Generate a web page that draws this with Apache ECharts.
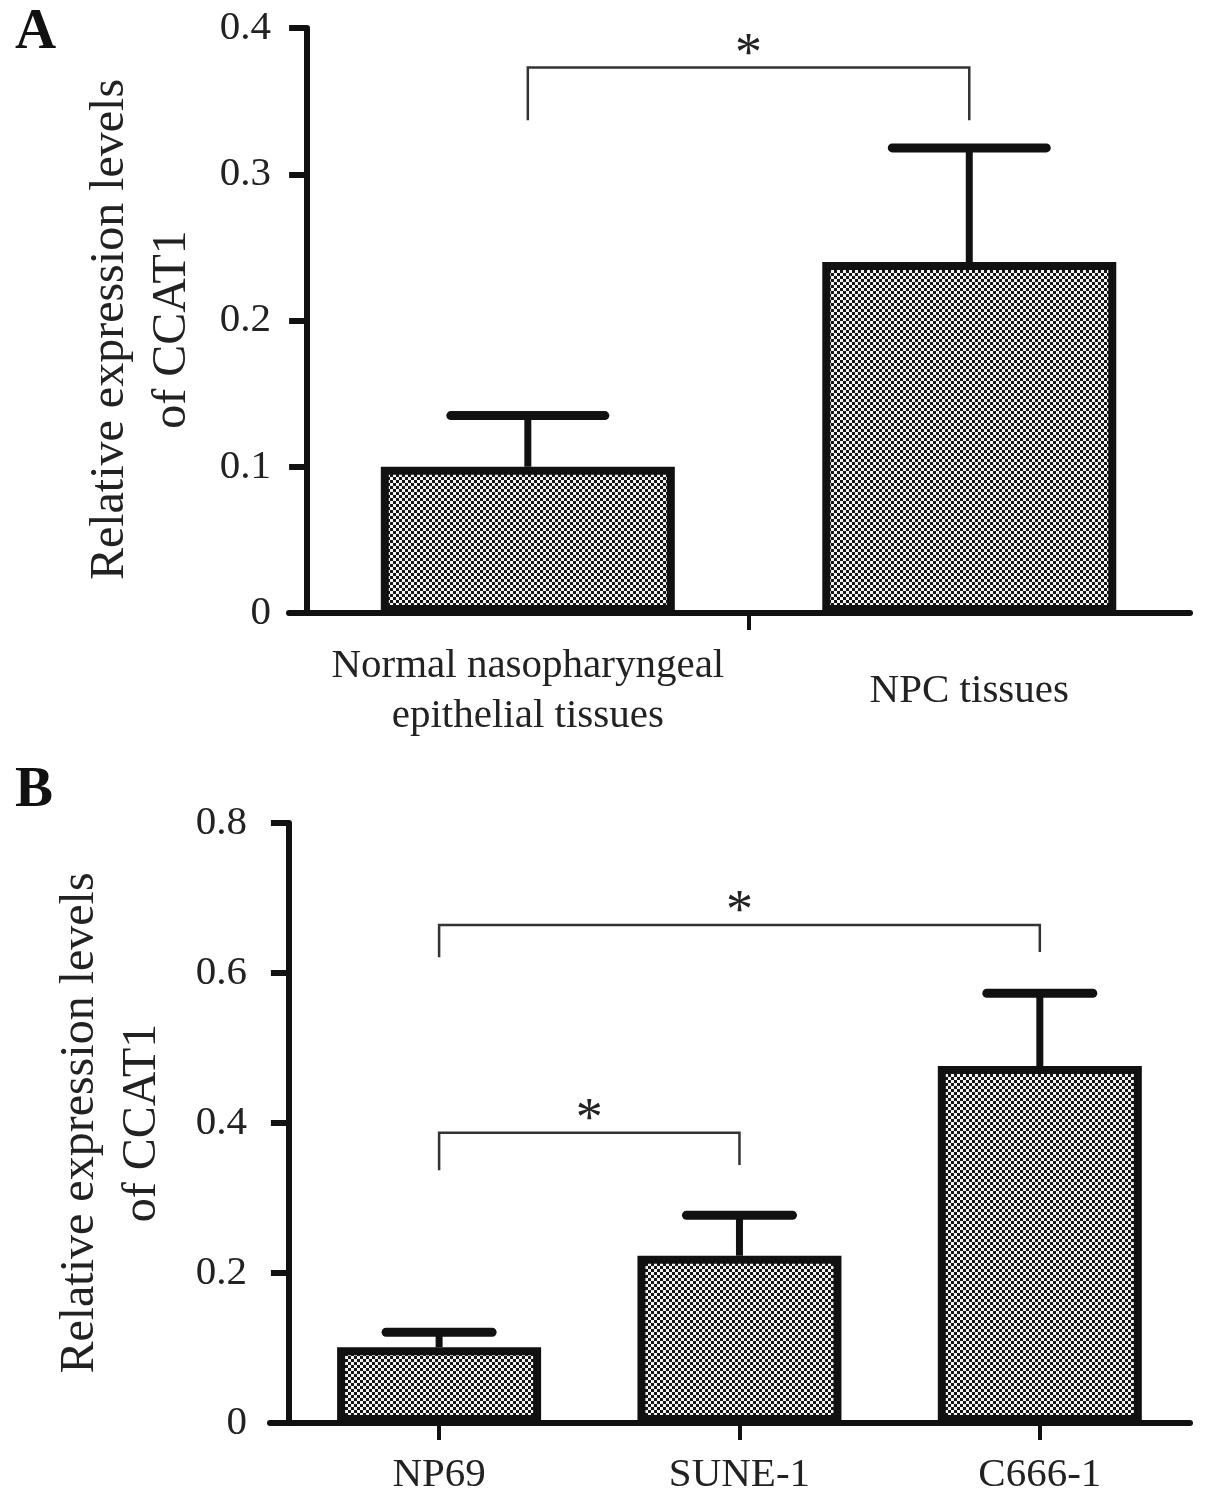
<!DOCTYPE html>
<html>
<head>
<meta charset="utf-8">
<script src="https://cdn.jsdelivr.net/npm/echarts@6/dist/echarts.min.js"></script>
<style>
  html, body { margin: 0; background: #fff; }
  #chart { width: 1205px; height: 1507px; }
</style>
</head>
<body>
<div id="chart"></div>
<script>
// Panel A: tissues
const tissueCategories = ["Normal nasopharyngeal\nepithelial tissues", "NPC tissues"];
const tissueMeans = [0.1, 0.24];
const tissueSD = [0.035, 0.078];
// [from, to, bracket top, left leg end, right leg end]
const tissueBrackets = [[0, 1, 0.373, 0.337, 0.337]];
const tissueTicks = [0, 0.1, 0.2, 0.3, 0.4];

// Panel B: cell lines
const cellCategories = ["NP69", "SUNE-1", "C666-1"];
const cellMeans = [0.101, 0.223, 0.476];
const cellSD = [0.02, 0.054, 0.097];
const cellBrackets = [[0, 2, 0.664, 0.621, 0.628], [0, 1, 0.387, 0.337, 0.344]];
const cellTicks = [0, 0.2, 0.4, 0.6, 0.8];

const FONT = '"Liberation Serif", "DejaVu Serif", serif';
const INK = "#111";
const AXIS_NAME = "Relative expression levels\nof CCAT1";

// checkered fill like the GraphPad pattern
function makeChecker() {
  const c = document.createElement("canvas");
  c.width = 6;
  c.height = 6;
  const ctx = c.getContext("2d");
  ctx.fillStyle = "#f4f4f4";
  ctx.fillRect(0, 0, 6, 6);
  ctx.fillStyle = "#151515";
  ctx.fillRect(0, 0, 3, 3);
  ctx.fillRect(3, 3, 3, 3);
  return c;
}
const checker = { image: makeChecker(), repeat: "repeat" };

function catX(i) {
  return i + 0.5;
}

function xAxisFor(gridIndex, categories, xMin, tickValues, labelMargin) {
  return {
    type: "value",
    gridIndex,
    min: xMin,
    max: categories.length,
    splitLine: { show: false },
    axisLine: { lineStyle: { color: INK, width: 6 } },
    axisTick: { customValues: tickValues, length: 17, lineStyle: { color: INK, width: 4 } },
    axisLabel: {
      customValues: categories.map((_, i) => catX(i)),
      formatter: (v) => categories[Math.round(v - 0.5)] || "",
      margin: labelMargin,
      verticalAlign: "middle",
      fontFamily: FONT,
      fontSize: 41,
      lineHeight: 50,
      color: "#222"
    }
  };
}

function yAxisFor(gridIndex, ticks, labelMargin, nameGap, namePad) {
  return {
    type: "value",
    gridIndex,
    min: ticks[0],
    max: ticks[ticks.length - 1],
    interval: ticks[1] - ticks[0],
    splitLine: { show: false },
    axisLine: { onZero: true, lineStyle: { color: INK, width: 6 } },
    axisTick: { length: 18, lineStyle: { color: INK, width: 6 } },
    axisLabel: { margin: labelMargin, fontFamily: FONT, fontSize: 41, color: "#222" },
    name: AXIS_NAME,
    nameLocation: "middle",
    nameGap,
    nameMoveOverlap: false,
    nameTextStyle: {
      fontFamily: FONT,
      fontSize: 48,
      lineHeight: 62,
      color: "#222",
      align: "center",
      padding: namePad
    }
  };
}

function barSeries(axisIndex, means, width) {
  return {
    type: "bar",
    xAxisIndex: axisIndex,
    yAxisIndex: axisIndex,
    barWidth: width,
    z: 3,
    itemStyle: { color: checker, borderColor: INK, borderWidth: 8 },
    data: means.map((m, i) => [catX(i), m])
  };
}

function errorSeries(axisIndex, means, sd, capHalf) {
  return {
    type: "custom",
    xAxisIndex: axisIndex,
    yAxisIndex: axisIndex,
    z: 2,
    silent: true,
    encode: { x: 0, y: [1, 2] },
    data: means.map((m, i) => [catX(i), m, m + sd[i]]),
    renderItem(params, api) {
      const base = api.coord([api.value(0), api.value(1)]);
      const top = api.coord([api.value(0), api.value(2)]);
      return {
        type: "group",
        children: [
          {
            type: "line",
            shape: { x1: base[0], y1: base[1], x2: top[0], y2: top[1] },
            style: { stroke: INK, lineWidth: 7 }
          },
          {
            type: "line",
            shape: { x1: top[0] - capHalf, y1: top[1], x2: top[0] + capHalf, y2: top[1] },
            style: { stroke: INK, lineWidth: 9, lineCap: "round" }
          }
        ]
      };
    }
  };
}

function bracketSeries(axisIndex, brackets) {
  return {
    type: "custom",
    xAxisIndex: axisIndex,
    yAxisIndex: axisIndex,
    silent: true,
    encode: { x: [0, 1], y: [2, 3, 4] },
    data: brackets.map((b) => [catX(b[0]), catX(b[1]), b[2], b[3], b[4]]),
    renderItem(params, api) {
      const l = api.coord([api.value(0), api.value(2)]);
      const r = api.coord([api.value(1), api.value(2)]);
      const lb = api.coord([api.value(0), api.value(3)]);
      const rb = api.coord([api.value(1), api.value(4)]);
      return {
        type: "group",
        children: [
          {
            type: "polyline",
            shape: { points: [lb, l, r, rb] },
            style: { stroke: "#333", lineWidth: 2.5, fill: null }
          },
          {
            type: "text",
            style: {
              x: (l[0] + r[0]) / 2,
              y: l[1] - 12,
              text: "*",
              align: "center",
              verticalAlign: "middle",
              font: "54px " + FONT,
              fill: "#222"
            }
          }
        ]
      };
    }
  };
}

const chart = echarts.init(document.getElementById("chart"), null, { renderer: "canvas" });

const letterStyle = { fontFamily: FONT, fontSize: 57, fontWeight: "bold", color: "#111" };

chart.setOption({
  animation: false,
  backgroundColor: "#fff",
  title: [
    { text: "A", left: 10, top: 0, textStyle: letterStyle },
    { text: "B", left: 10, top: 758, textStyle: letterStyle }
  ],
  grid: [
    { left: 289, right: 15, top: 28, height: 585 },
    { left: 270, right: 15, top: 823, height: 600 }
  ],
  xAxis: [
    xAxisFor(0, tissueCategories, -0.041, [1], 78),
    xAxisFor(1, cellCategories, -0.063, cellCategories.map((_, i) => catX(i)), 52)
  ],
  yAxis: [
    yAxisFor(0, tissueTicks, 18, 86, [0, 18, 0, 0]),
    yAxisFor(1, cellTicks, 23, 97, [0, 0, 0, 0])
  ],
  series: [
    errorSeries(0, tissueMeans, tissueSD, 77),
    barSeries(0, tissueMeans, 294),
    bracketSeries(0, tissueBrackets),
    errorSeries(1, cellMeans, cellSD, 53),
    barSeries(1, cellMeans, 204),
    bracketSeries(1, cellBrackets)
  ]
});
</script>
</body>
</html>
